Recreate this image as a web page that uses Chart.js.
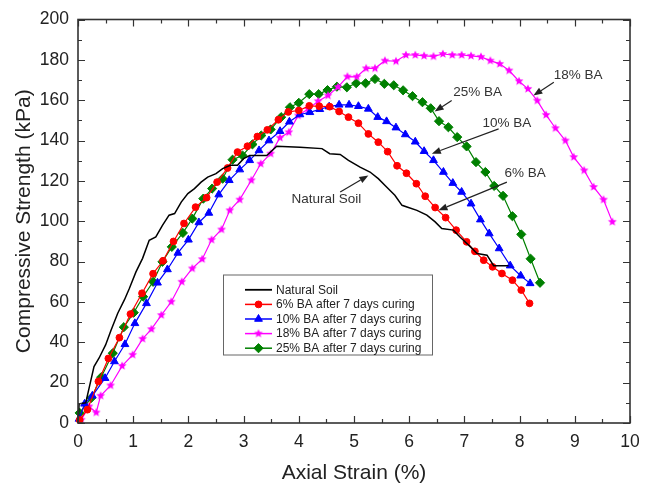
<!DOCTYPE html>
<html>
<head>
<meta charset="utf-8">
<title>Compressive Strength vs Axial Strain</title>
<script src="https://cdn.jsdelivr.net/npm/chart.js@4"></script>
<style>
  html, body { margin: 0; padding: 0; background: #fff; }
  canvas { display: block; }
</style>
</head>
<body>
<canvas id="strengthChart" width="649" height="485"></canvas>
<script>
// Axial strain (%) / compressive strength (kPa) readings for each mix
const soilStrain = [0, 0.02, 0.14, 0.29, 0.38, 0.50, 0.60, 0.72, 0.84, 0.93, 1.05, 1.17, 1.29, 1.41, 1.53, 1.65, 1.75, 1.87, 1.99, 2.11, 2.23, 2.35, 2.50, 2.62, 2.76, 2.89, 3.00, 3.11, 3.30, 3.42, 3.60, 4.02, 4.42, 4.56, 4.75, 4.90, 5.11, 5.29, 5.44, 5.59, 5.74, 5.87, 5.96, 6.14, 6.32, 6.47, 6.59, 6.80, 6.92, 7.11, 7.23, 7.41, 7.53, 7.80];
const soilStress = [0, 9.5, 10, 28, 32.1, 38.7, 46.1, 54.4, 61, 66.7, 74.9, 81.6, 90.6, 92.2, 98, 103, 103.8, 109.5, 113.7, 116.2, 119.4, 121.9, 123.6, 126.1, 127.7, 127.7, 131, 132.6, 132.6, 132.6, 137.2, 136.7, 136, 133.5, 133.1, 130.2, 126.8, 124.4, 121.1, 117, 112.9, 107.9, 107.1, 105.4, 103, 99.7, 96.4, 95.6, 92.2, 87.3, 84, 83.2, 78, 78];

const ba6Strain = [0.03, 0.17, 0.37, 0.55, 0.75, 0.95, 1.16, 1.36, 1.54, 1.73, 1.92, 2.13, 2.33, 2.52, 2.71, 2.89, 3.07, 3.25, 3.43, 3.63, 3.81, 4.00, 4.19, 4.37, 4.56, 4.73, 4.90, 5.08, 5.26, 5.44, 5.61, 5.78, 5.95, 6.13, 6.29, 6.47, 6.66, 6.85, 7.04, 7.19, 7.35, 7.51, 7.68, 7.87, 8.03, 8.18];
const ba6Stress = [1.5, 6.6, 20.6, 32, 42.3, 54, 64.3, 74, 80.4, 90, 98.9, 107, 111.7, 119.4, 126.4, 134.3, 137.2, 142, 145.3, 150.3, 154.2, 154.9, 157.2, 157, 156.8, 154.4, 151.6, 148.6, 143.3, 139.2, 134.5, 127.5, 123.8, 118.6, 112.4, 106.8, 101.8, 95.6, 89.8, 85.1, 80.7, 77.4, 74.1, 70.8, 65.9, 59.3];

const ba10Strain = [0.02, 0.12, 0.26, 0.49, 0.66, 0.85, 1.03, 1.24, 1.44, 1.62, 1.81, 2.00, 2.19, 2.37, 2.55, 2.74, 2.93, 3.11, 3.28, 3.46, 3.66, 3.83, 4.02, 4.20, 4.38, 4.55, 4.73, 4.91, 5.08, 5.26, 5.43, 5.59, 5.76, 5.93, 6.11, 6.27, 6.44, 6.62, 6.79, 6.95, 7.12, 7.29, 7.45, 7.63, 7.83, 8.02, 8.19];
const ba10Stress = [2, 9.5, 13.5, 22.2, 30.5, 39, 49.4, 59.3, 69.5, 76.1, 84.3, 90.8, 99.4, 104.1, 113.2, 120.3, 125.6, 130.2, 135.1, 140, 144.6, 149.3, 152.9, 154, 155.5, 156.8, 157.7, 157.7, 157, 155.7, 151.6, 149.5, 146.4, 143, 139.4, 134.7, 130.2, 124.4, 118.9, 114.5, 108.7, 100.8, 93.9, 86.5, 78, 73, 69.2];

const ba18Strain = [0.06, 0.20, 0.33, 0.41, 0.59, 0.80, 0.99, 1.17, 1.33, 1.51, 1.69, 1.88, 2.07, 2.25, 2.42, 2.60, 2.75, 2.93, 3.14, 3.31, 3.49, 3.66, 3.82, 3.99, 4.17, 4.35, 4.53, 4.71, 4.88, 5.05, 5.22, 5.38, 5.56, 5.76, 5.94, 6.11, 6.27, 6.44, 6.61, 6.78, 6.95, 7.12, 7.30, 7.47, 7.64, 7.81, 7.99, 8.15, 8.32, 8.48, 8.65, 8.83, 8.98, 9.17, 9.34, 9.52, 9.68];
const ba18Stress = [1.6, 8.2, 5.2, 13.5, 18.6, 28.3, 33.8, 41.7, 46.5, 53.5, 60.1, 70, 76.6, 81.2, 90.8, 95.9, 105.4, 110.7, 120.3, 128.5, 133.5, 141.4, 144.1, 152.4, 155.7, 159.5, 162.3, 166.5, 171.7, 171.6, 175.8, 175.8, 179.6, 179.3, 182.4, 182.4, 182, 181.7, 182.9, 182.4, 182.4, 182, 181.5, 179.6, 178, 174.7, 169.4, 165.6, 159.8, 152.7, 146.1, 140, 131.8, 125.2, 117, 110.7, 99.7];

const ba25Strain = [0.03, 0.24, 0.42, 0.63, 0.83, 1.01, 1.18, 1.36, 1.53, 1.70, 1.90, 2.07, 2.27, 2.43, 2.62, 2.80, 2.98, 3.16, 3.32, 3.49, 3.68, 3.84, 4.00, 4.19, 4.36, 4.52, 4.69, 4.87, 5.04, 5.21, 5.38, 5.55, 5.72, 5.89, 6.06, 6.24, 6.39, 6.54, 6.71, 6.87, 7.04, 7.21, 7.38, 7.54, 7.70, 7.87, 8.03, 8.20, 8.37];
const ba25Stress = [5, 12.4, 22.7, 34.6, 47.5, 54.7, 62.6, 70, 79.9, 87.3, 94.2, 101.3, 111.2, 116.2, 121.1, 130.5, 132.6, 138.1, 142.5, 145.5, 151.6, 156.5, 158.7, 163, 163, 165, 166.7, 166.4, 168.4, 168.4, 170.5, 168.1, 167.4, 164.9, 162, 159, 156, 149.6, 146.6, 141.7, 137.1, 129.3, 124.4, 117.5, 112.6, 102.5, 93.5, 81.4, 69.5];

const seriesLabels = [
  'Natural Soil',
  '6% BA after 7 days curing',
  '10% BA after 7 days curing',
  '18% BA after 7 days curing',
  '25% BA after 7 days curing'
];

const strainTicks = [0, 1, 2, 3, 4, 5, 6, 7, 8, 9, 10];
const strengthTicks = [0, 20, 40, 60, 80, 100, 120, 140, 160, 180, 200];

// callout labels with arrows, in data units
const callouts = [
  { text: 'Natural Soil', at: [4.50, 110.7], from: [4.75, 114.5], to: [5.26, 122.7] },
  { text: '6% BA', at: [8.10, 123.6], from: [7.77, 119.4], to: [6.53, 105.4] },
  { text: '10% BA', at: [7.77, 148.6], from: [7.62, 145.8], to: [6.41, 133.5] },
  { text: '25% BA', at: [7.24, 163.8], from: [6.77, 159.8], to: [6.46, 154.4] },
  { text: '18% BA', at: [9.06, 172.4], from: [8.62, 168.9], to: [8.25, 162.3] }
];

const FONT = 'Arial, "Liberation Sans", Helvetica, sans-serif';

const toPoints = (xs, ys) => xs.map((v, i) => ({ x: v, y: ys[i] }));

// small filled five-point star for the 18% series
function makeStar(r, color) {
  const c = document.createElement('canvas');
  c.width = c.height = Math.ceil(2 * r + 2);
  const g = c.getContext('2d');
  const m = c.width / 2;
  g.beginPath();
  for (let i = 0; i < 10; i++) {
    const a = -Math.PI / 2 + i * Math.PI / 5;
    const rr = i % 2 ? r * 0.45 : r;
    g.lineTo(m + rr * Math.cos(a), m + rr * Math.sin(a));
  }
  g.closePath();
  g.fillStyle = color;
  g.fill();
  return c;
}

function series(label, xs, ys, color, style, radius, width) {
  return {
    label: label,
    data: toPoints(xs, ys),
    showLine: true,
    borderColor: color,
    backgroundColor: color,
    borderWidth: width,
    pointStyle: style,
    pointRadius: radius,
    pointHoverRadius: radius,
    pointBorderWidth: 1,
    pointBorderColor: color,
    pointBackgroundColor: color,
    tension: 0,
    clip: 6
  };
}

const datasets = [
  series(seriesLabels[0], soilStrain, soilStress, '#000000', 'circle', 0, 1.5),
  series(seriesLabels[1], ba6Strain, ba6Stress, '#ff0000', 'circle', 3.4, 1.2),
  series(seriesLabels[2], ba10Strain, ba10Stress, '#0000ff', 'triangle', 4.5, 1.2),
  series(seriesLabels[3], ba18Strain, ba18Stress, '#ff00ff', makeStar(4.6, '#ff00ff'), 4.6, 1.2),
  series(seriesLabels[4], ba25Strain, ba25Stress, '#008000', 'rectRot', 4.6, 1.2)
];

// box frame plus inward major/minor ticks on all four sides
const framePlugin = {
  id: 'frame',
  afterDatasetsDraw(chart) {
    const { ctx, chartArea: a, scales: { x, y } } = chart;
    ctx.save();
    ctx.strokeStyle = '#333';
    ctx.lineWidth = 1.2;
    ctx.beginPath();
    for (let v = 0; v <= 10; v += 0.5) {
      const px = Math.round(x.getPixelForValue(v)) + 0.5;
      const len = Number.isInteger(v) ? 7 : 4;
      ctx.moveTo(px, a.bottom); ctx.lineTo(px, a.bottom - len);
      ctx.moveTo(px, a.top); ctx.lineTo(px, a.top + len);
    }
    for (let v = 0; v <= 200; v += 10) {
      const py = Math.round(y.getPixelForValue(v)) + 0.5;
      const len = v % 20 === 0 ? 7 : 4;
      ctx.moveTo(a.left, py); ctx.lineTo(a.left + len, py);
      ctx.moveTo(a.right, py); ctx.lineTo(a.right - len, py);
    }
    ctx.stroke();
    ctx.lineWidth = 1.6;
    ctx.strokeRect(a.left, a.top, a.right - a.left, a.bottom - a.top);
    ctx.restore();
  }
};

// text callouts with arrows pointing at the curves
const calloutPlugin = {
  id: 'callouts',
  afterDatasetsDraw(chart) {
    const { ctx, scales: { x, y } } = chart;
    ctx.save();
    ctx.font = '13.5px ' + FONT;
    ctx.fillStyle = '#333';
    ctx.strokeStyle = '#222';
    ctx.textAlign = 'center';
    ctx.textBaseline = 'middle';
    callouts.forEach(c => {
      ctx.fillText(c.text, x.getPixelForValue(c.at[0]), y.getPixelForValue(c.at[1]));
      const x0 = x.getPixelForValue(c.from[0]), y0 = y.getPixelForValue(c.from[1]);
      const x1 = x.getPixelForValue(c.to[0]), y1 = y.getPixelForValue(c.to[1]);
      const ang = Math.atan2(y1 - y0, x1 - x0);
      const head = 9, half = 3.5;
      const bx = x1 - head * Math.cos(ang), by = y1 - head * Math.sin(ang);
      ctx.lineWidth = 1.2;
      ctx.beginPath();
      ctx.moveTo(x0, y0);
      ctx.lineTo(bx, by);
      ctx.stroke();
      ctx.beginPath();
      ctx.moveTo(x1, y1);
      ctx.lineTo(bx - half * Math.sin(ang), by + half * Math.cos(ang));
      ctx.lineTo(bx + half * Math.sin(ang), by - half * Math.cos(ang));
      ctx.closePath();
      ctx.fillStyle = '#222';
      ctx.fill();
      ctx.fillStyle = '#333';
    });
    ctx.restore();
  }
};

// boxed legend inside the plot area
const legendPlugin = {
  id: 'boxLegend',
  afterDraw(chart) {
    const { ctx, chartArea: a } = chart;
    const bx = a.left + 145, by = a.top + 255, bw = 209, bh = 80;
    ctx.save();
    ctx.fillStyle = '#fff';
    ctx.fillRect(bx, by, bw, bh);
    ctx.strokeStyle = '#666';
    ctx.lineWidth = 1;
    ctx.strokeRect(bx + 0.5, by + 0.5, bw, bh);
    ctx.font = '12px ' + FONT;
    ctx.textBaseline = 'middle';
    chart.data.datasets.forEach((ds, i) => {
      const ry = by + 15.3 + i * 14.6;
      ctx.strokeStyle = ds.borderColor;
      ctx.lineWidth = ds.borderWidth + 0.3;
      ctx.beginPath();
      ctx.moveTo(bx + 22, ry);
      ctx.lineTo(bx + 49, ry);
      ctx.stroke();
      if (ds.pointRadius > 0) {
        ctx.fillStyle = ds.pointBackgroundColor;
        ctx.lineWidth = 1;
        Chart.helpers.drawPoint(ctx, {
          pointStyle: ds.pointStyle, radius: ds.pointRadius, rotation: 0, borderWidth: 1
        }, bx + 35.5, ry);
      }
      ctx.fillStyle = '#222';
      ctx.fillText(ds.label, bx + 53, ry + 0.5);
    });
    ctx.restore();
  }
};

new Chart(document.getElementById('strengthChart'), {
  type: 'scatter',
  data: { datasets: datasets },
  options: {
    responsive: false,
    animation: false,
    events: [],
    layout: { padding: { left: 0, top: 18, right: 19, bottom: 0 } },
    plugins: {
      legend: { display: false },
      tooltip: { enabled: false }
    },
    scales: {
      x: {
        type: 'linear',
        min: strainTicks[0],
        max: strainTicks[strainTicks.length - 1],
        afterBuildTicks: s => { s.ticks = strainTicks.map(v => ({ value: v })); },
        afterFit: s => { s.height = 62; },
        grid: { display: false, drawTicks: false },
        border: { display: false },
        ticks: { color: '#222', padding: 9, font: { family: FONT, size: 17.5 }, maxRotation: 0 },
        title: {
          display: true, text: 'Axial Strain (%)', color: '#222',
          font: { family: FONT, size: 21, lineHeight: 1 }, padding: { top: 0, bottom: 1 }
        }
      },
      y: {
        type: 'linear',
        min: strengthTicks[0],
        max: strengthTicks[strengthTicks.length - 1],
        afterBuildTicks: s => { s.ticks = strengthTicks.map(v => ({ value: v })); },
        afterFit: s => { s.width = 78; },
        grid: { display: false, drawTicks: false },
        border: { display: false },
        ticks: { color: '#222', padding: 9, font: { family: FONT, size: 17.5 } },
        title: {
          display: true, text: 'Compressive Strength (kPa)', color: '#222',
          font: { family: FONT, size: 21 }, padding: { top: 12, bottom: 0 }
        }
      }
    }
  },
  plugins: [framePlugin, calloutPlugin, legendPlugin]
});
</script>
</body>
</html>
